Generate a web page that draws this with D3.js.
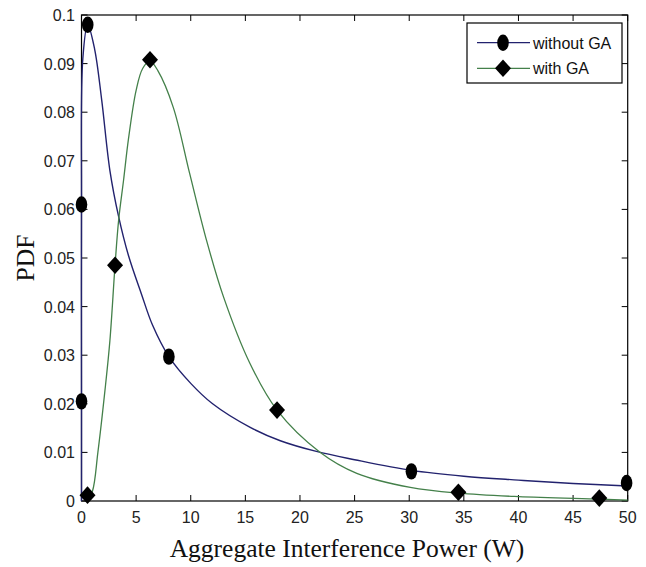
<!DOCTYPE html>
<html>
<head>
<meta charset="utf-8">
<script src="https://cdn.jsdelivr.net/npm/d3@7"></script>
<style>
  html, body { margin: 0; padding: 0; background: #fff; }
  svg { display: block; }
  .tick-label { font-family: "Liberation Sans", Arial, sans-serif; font-size: 16px; fill: #222; }
  .axis-title { font-family: "Liberation Serif", "Times New Roman", serif; font-size: 25.5px; fill: #111; }
  .legend-text { font-family: "Liberation Sans", Arial, sans-serif; font-size: 16px; fill: #111; }
</style>
</head>
<body>
<svg id="chart" width="646" height="567"></svg>
<script>
// PDF of aggregate interference power, with and without GA optimisation

// Smooth curve samples: [power (W), pdf]
const withoutGaCurve = [
  [0, 0], [0, 0.0205], [0, 0.061], [0.12, 0.091], [0.57, 0.098], [1.2, 0.093],
  [1.85, 0.0825], [2.6, 0.068], [3.4, 0.0585], [4.3, 0.0505], [5.5, 0.0425],
  [6.5, 0.0362], [8, 0.0297], [10, 0.0242], [12, 0.0200], [15.4, 0.0152],
  [18.2, 0.0124], [21.5, 0.0102], [25, 0.0085], [30.2, 0.0063], [35, 0.0051],
  [40, 0.0043], [45, 0.0036], [50, 0.0031]
];
const withGaCurve = [
  [0.5, 0], [1.0, 0.002], [1.5, 0.010], [2.15, 0.0228], [2.6, 0.033],
  [3.07, 0.0485], [3.4, 0.0578], [3.85, 0.066], [4.3, 0.0745], [5.0, 0.0845],
  [5.6, 0.089], [6.27, 0.0905], [7.0, 0.0885], [8.4, 0.081], [9.9, 0.0674],
  [11.4, 0.054], [13, 0.042], [15.4, 0.0284], [17.9, 0.0187], [21.8, 0.0101],
  [25.2, 0.0057], [30.1, 0.0028], [34.5, 0.0016], [40, 0.0009], [47.4, 0.0004],
  [50, 0.0002]
];

// Marker points for each series
const withoutGaMarkers = [
  [0, 0.0205], [0, 0.061], [0.57, 0.098], [8, 0.0297], [30.2, 0.0061], [49.9, 0.0037]
];
const withGaMarkers = [
  [0.55, 0.0012], [3.07, 0.0485], [6.27, 0.0908], [17.9, 0.0187], [34.5, 0.0018], [47.4, 0.0006]
];

// Axis ticks
const xTicks = [0, 5, 10, 15, 20, 25, 30, 35, 40, 45, 50];
const yTicks = [0, 0.01, 0.02, 0.03, 0.04, 0.05, 0.06, 0.07, 0.08, 0.09, 0.1];
const yTickLabels = ["0", "0.01", "0.02", "0.03", "0.04", "0.05", "0.06", "0.07", "0.08", "0.09", "0.1"];

const seriesNames = ["without GA", "with GA"];
const blue = "#22226e";
const green = "#44804a";

const svg = d3.select("#chart");
const plotL = 81.5, plotR = 627.7, plotT = 15, plotB = 501;

const x = d3.scaleLinear().domain([0, 50]).range([plotL, plotR]);
const y = d3.scaleLinear().domain([0, 0.1]).range([plotB, plotT]);

// Plot frame
svg.append("rect")
  .attr("x", plotL).attr("y", plotT)
  .attr("width", plotR - plotL).attr("height", plotB - plotT)
  .attr("fill", "#fff").attr("stroke", "#000").attr("stroke-width", 1.2);

// Inward ticks on all four sides
const tk = 6;
const ticksG = svg.append("g").attr("stroke", "#000").attr("stroke-width", 1);
xTicks.forEach(t => {
  ticksG.append("line").attr("x1", x(t)).attr("x2", x(t)).attr("y1", plotB).attr("y2", plotB - tk);
  ticksG.append("line").attr("x1", x(t)).attr("x2", x(t)).attr("y1", plotT).attr("y2", plotT + tk);
});
yTicks.forEach(t => {
  ticksG.append("line").attr("x1", plotL).attr("x2", plotL + tk).attr("y1", y(t)).attr("y2", y(t));
  ticksG.append("line").attr("x1", plotR).attr("x2", plotR - tk).attr("y1", y(t)).attr("y2", y(t));
});

// Tick labels
svg.append("g").selectAll("text").data(xTicks).join("text")
  .attr("class", "tick-label")
  .attr("x", d => x(d)).attr("y", 523)
  .attr("text-anchor", "middle")
  .text(d => d3.format("d")(d));
svg.append("g").selectAll("text").data(yTicks).join("text")
  .attr("class", "tick-label")
  .attr("x", 75).attr("y", d => y(d) + 6)
  .attr("text-anchor", "end")
  .text((d, i) => yTickLabels[i]);

// Curves
const line = d3.line()
  .x(d => x(d[0])).y(d => y(d[1]))
  .curve(d3.curveCatmullRom.alpha(0.5));

svg.append("path").datum(withoutGaCurve)
  .attr("d", line).attr("fill", "none")
  .attr("stroke", blue).attr("stroke-width", 1.4);
svg.append("path").datum(withGaCurve)
  .attr("d", line).attr("fill", "none")
  .attr("stroke", green).attr("stroke-width", 1.3);

// Marker shapes
function drawEllipse(g, cx, cy) {
  g.append("ellipse").attr("cx", cx).attr("cy", cy).attr("rx", 5.8).attr("ry", 8.2).attr("fill", "#000");
}
function drawDiamond(g, cx, cy) {
  const w = 8, h = 8.8;
  g.append("path")
    .attr("d", `M${cx},${cy - h}L${cx + w},${cy}L${cx},${cy + h}L${cx - w},${cy}Z`)
    .attr("fill", "#000");
}
const markG = svg.append("g");
withoutGaMarkers.forEach(d => drawEllipse(markG, x(d[0]), y(d[1])));
withGaMarkers.forEach(d => drawDiamond(markG, x(d[0]), y(d[1])));

// Legend
const lg = svg.append("g");
lg.append("rect").attr("x", 467).attr("y", 23).attr("width", 155).attr("height", 60)
  .attr("fill", "#fff").attr("stroke", "#000").attr("stroke-width", 1.2);
const legendRows = [
  { name: seriesNames[0], color: blue, yy: 42.7, draw: drawEllipse },
  { name: seriesNames[1], color: green, yy: 68.3, draw: drawDiamond }
];
legendRows.forEach(r => {
  lg.append("line").attr("x1", 477).attr("x2", 530).attr("y1", r.yy).attr("y2", r.yy)
    .attr("stroke", r.color).attr("stroke-width", 1.3);
  r.draw(lg, 503, r.yy);
  lg.append("text").attr("class", "legend-text").attr("x", 533).attr("y", r.yy + 6).text(r.name);
});

// Axis titles
svg.append("text").attr("class", "axis-title")
  .attr("x", 347).attr("y", 557)
  .attr("text-anchor", "middle")
  .text("Aggregate Interference Power (W)");
svg.append("text").attr("class", "axis-title")
  .attr("transform", `translate(34,258) rotate(-90)`)
  .attr("text-anchor", "middle")
  .text("PDF");
</script>
</body>
</html>
